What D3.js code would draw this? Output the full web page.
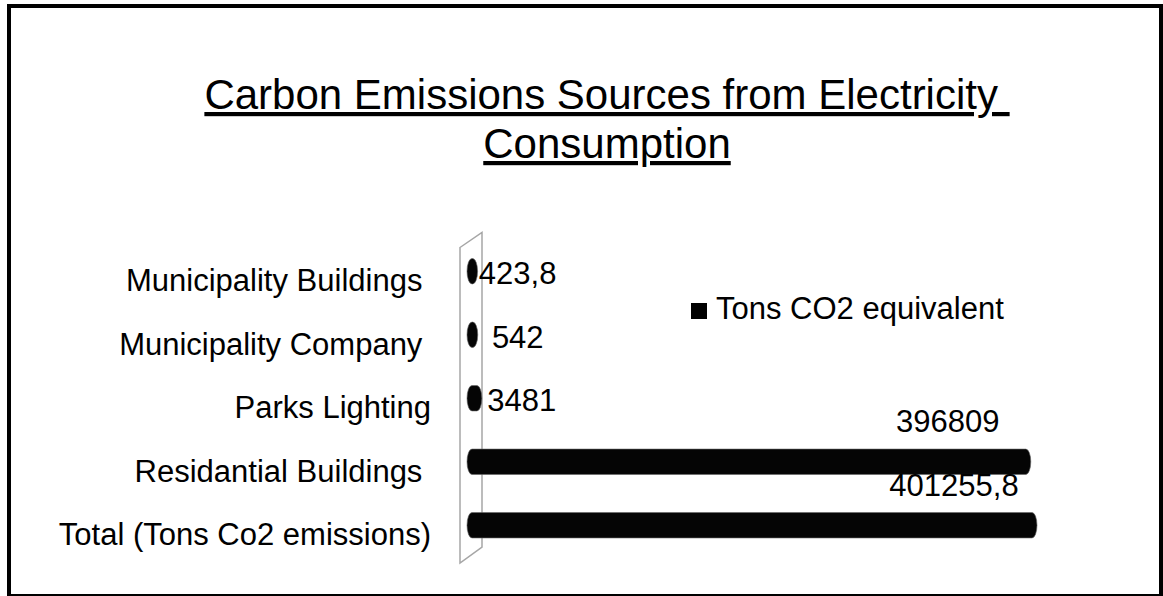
<!DOCTYPE html>
<html>
<head>
<meta charset="utf-8">
<script src="https://cdn.jsdelivr.net/npm/d3@7"></script>
<style>
  html, body { margin: 0; padding: 0; background: #fff; }
  svg { display: block; font-family: "Liberation Sans", Arial, sans-serif; }
</style>
</head>
<body>
<svg width="1163" height="596"></svg>
<script>
var svg = d3.select("svg"),
    width = 1163,
    height = 596;

// chart data
var categories = ["Municipality Buildings ", "Municipality Company ", "Parks Lighting", "Residantial Buildings ", "Total (Tons Co2 emissions)"];
var values = [423.8, 542, 3481, 396809, 401255.8];
var valueLabels = ["423,8", "542", "3481", "396809", "401255,8"];
var seriesName = "Tons CO2 equivalent";
var titleLines = ["Carbon Emissions Sources from Electricity ", "Consumption"];

var rows = categories.map(function(c, i) {
    return {name: c, value: values[i], label: valueLabels[i]};
});

// outer frame
svg.append("rect")
    .attr("x", 9).attr("y", 6)
    .attr("width", 1152).attr("height", 590)
    .attr("fill", "none")
    .attr("stroke", "#000")
    .attr("stroke-width", 4);

// title
svg.append("g").selectAll("text")
    .data(titleLines)
    .enter().append("text")
    .attr("x", 607)
    .attr("y", function(d, i) { return 109 + i * 49; })
    .attr("text-anchor", "middle")
    .style("white-space", "pre")
    .style("text-decoration", "underline")
    .attr("font-size", 42)
    .attr("fill", "#000")
    .text(function(d) { return d; });

// scales
var x = d3.scaleLinear()
    .domain([0, d3.max(values)])
    .range([472, 1032]);

var y = d3.scaleBand()
    .domain(categories)
    .range([239.5, 557])
    .paddingInner(0.6)
    .paddingOuter(0.3);

var rx = 5;
var x0 = x(0);

// 3d "wall" behind the bars
var wallTop = y.range()[0], wallBottom = y.range()[1];
svg.append("path")
    .attr("d", d3.line()([
        [x0 - 12, wallTop + 8],
        [x0 + 10, wallTop - 7],
        [x0 + 10, wallBottom - 10],
        [x0 - 12, wallBottom + 6]
    ]) + "Z")
    .attr("fill", "#fff")
    .attr("stroke", "#a6a6a6")
    .attr("stroke-width", 1.5);

// category labels
svg.append("g").selectAll("text")
    .data(rows)
    .enter().append("text")
    .attr("x", 431)
    .attr("y", function(d) { return y(d.name) + y.bandwidth() / 2 + 20; })
    .attr("text-anchor", "end")
    .style("white-space", "pre")
    .attr("font-size", 31)
    .attr("fill", "#000")
    .text(function(d) { return d.name; });

// cylinder bars
function cylinder(d) {
    var h = y.bandwidth(),
        top = y(d.name),
        ry = h / 2,
        xe = x(d.value);
    return "M" + x0 + "," + top +
        "L" + xe + "," + top +
        "A" + rx + "," + ry + " 0 0 1 " + xe + "," + (top + h) +
        "L" + x0 + "," + (top + h) +
        "A" + rx + "," + ry + " 0 0 1 " + x0 + "," + top + "Z";
}

svg.append("g").selectAll("path")
    .data(rows)
    .enter().append("path")
    .attr("d", cylinder)
    .attr("fill", "#050505")
    .attr("stroke", "#666")
    .attr("stroke-width", 0.6);

// value labels
var big = x.domain()[1] * 0.5;
svg.append("g").selectAll("text")
    .data(rows)
    .enter().append("text")
    .attr("x", function(d) { return d.value > big ? x(d.value) - 78 : x(d.value) + 45; })
    .attr("y", function(d) {
        var c = y(d.name) + y.bandwidth() / 2;
        return d.value > big ? y(d.name) - 17 : c + 13;
    })
    .attr("text-anchor", "middle")
    .attr("font-size", 31)
    .attr("fill", "#000")
    .text(function(d) { return d.label; });

// legend
var legend = svg.append("g").attr("transform", "translate(691,303)");
legend.append("rect")
    .attr("width", 16).attr("height", 16)
    .attr("fill", "#000");
legend.append("text")
    .attr("x", 25).attr("y", 16)
    .attr("font-size", 31)
    .attr("fill", "#000")
    .text(seriesName);
</script>
</body>
</html>
